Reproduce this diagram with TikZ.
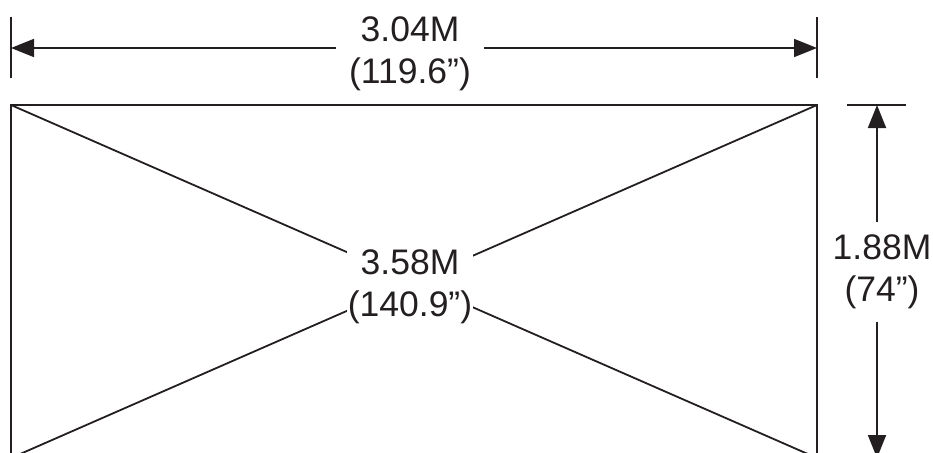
\documentclass[tikz,border=0pt]{standalone}
\usepackage{fontspec}
\setmainfont{Liberation Sans}
\usetikzlibrary{arrows.meta}
\definecolor{ink}{HTML}{231F20}
\begin{document}
\begin{tikzpicture}[x=1pt,y=-1pt,
  line/.style={draw=ink,line width=1.8pt},
  dimarrow/.style={line,-{Triangle[length=23pt,width=18pt]}},
  dimlabel/.style={fill=white,text=ink,align=center,font=\fontsize{35.5}{42}\selectfont}]
\useasboundingbox (0,0) rectangle (933,452);
\clip (0,0) rectangle (933,452);
% corners
\coordinate (TL) at (11,105);
\coordinate (TR) at (817,105);
\coordinate (BR) at (817,458);
\coordinate (BL) at (11,458);
% rectangle and diagonals
\draw[line] (TL) rectangle (BR);
\draw[line] (TL) -- (BR);
\draw[line] (TR) -- (BL);
% extension lines
\coordinate (eL1) at (11,17); \coordinate (eL2) at (11,78);
\coordinate (eR1) at (817,17); \coordinate (eR2) at (817,78);
\draw[line] (eL1) -- (eL2);
\draw[line] (eR1) -- (eR2);
\coordinate (eH1) at (847,105); \coordinate (eH2) at (906,105);
\draw[line] (eH1) -- (eH2);
% top dimension
\coordinate (dL) at (11,48); \coordinate (dR) at (817,48); \coordinate (dM) at (410,48);
\draw[dimarrow] (dM) -- (dL);
\draw[dimarrow] (dM) -- (dR);
\node[dimlabel,inner xsep=13pt,inner ysep=2pt] (wlabel) at (410,53.75) {3.04M\\(119.6”)};
% right dimension
\coordinate (vT) at (877,105); \coordinate (vB) at (877,458); \coordinate (vM) at (877,272);
\draw[dimarrow] (vM) -- (vT);
\draw[dimarrow] (vM) -- (vB);
\node[dimlabel,inner xsep=2pt,inner ysep=13pt] (hlabel) at (882,272) {1.88M\\(74”)};
% diagonal label
\node[dimlabel,inner xsep=1pt,inner ysep=1pt] (dlabel) at (410,287) {3.58M\\(140.9”)};
\end{tikzpicture}
\end{document}
